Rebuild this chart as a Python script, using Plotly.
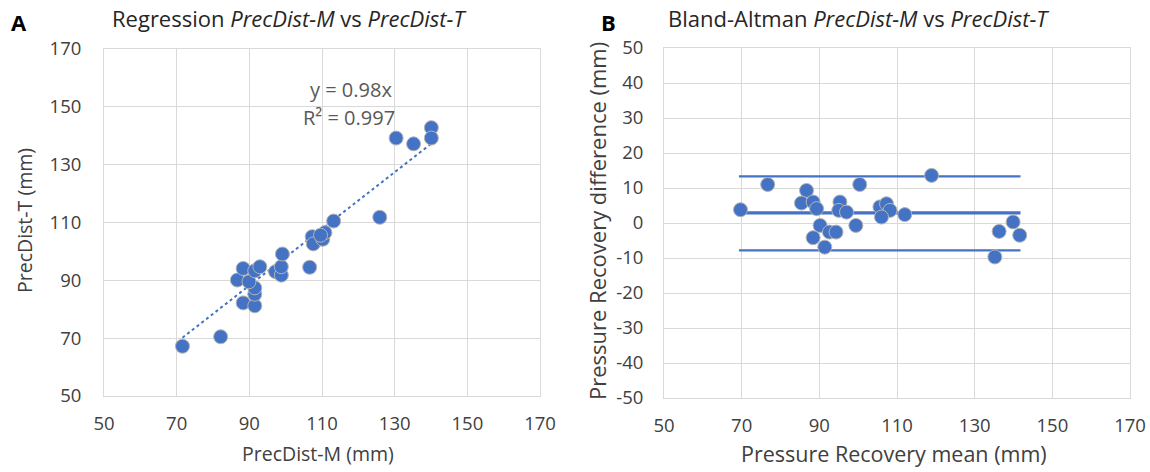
import plotly.graph_objects as go

# ---- Data ----
# Panel A: regression PrecDist-M (x) vs PrecDist-T (y)
reg_m = [71.6, 82.1, 88.3, 91.5, 91.5, 91.5, 86.7, 89.9, 88.3, 91.5, 92.9, 97.2, 98.8,
         98.8, 99.1, 106.6, 107.3, 107.6, 110.2, 110.8, 109.6, 113.2, 125.9, 130.4,
         135.2, 140.1, 140.1]
reg_t = [67.2, 70.5, 82.2, 81.2, 85.2, 87.4, 90.1, 89.5, 94.1, 93.3, 94.7, 93.0, 91.8,
         94.7, 99.1, 94.5, 105.1, 102.6, 104.2, 106.5, 105.6, 110.5, 111.8, 139.2,
         137.2, 142.8, 139.2]
slope = 0.98
eq_text = "y = 0.98x"
r2_text = "R² = 0.997"

# Panel B: Bland-Altman mean vs difference
ba_mean = [69.7, 76.7, 86.7, 85.4, 88.4, 89.3, 90.2, 88.4, 91.4, 92.6, 94.3, 95.3, 95.0,
           97.0, 99.4, 100.4, 105.6, 107.3, 108.2, 106.0, 112.0, 118.9, 135.2, 136.3,
           139.9, 141.6]
ba_diff = [3.8, 11.0, 9.3, 5.7, 6.0, 4.1, -0.7, -4.2, -6.9, -2.6, -2.6, 6.0, 3.6,
           3.1, -0.7, 11.0, 4.6, 5.5, 3.6, 1.7, 2.4, 13.6, -9.7, -2.4, 0.3, -3.5]
ba_bias = 2.9
ba_upper = 13.3
ba_lower = -7.8
ba_line_x = [69.3, 141.8]

ticks_a = [50, 70, 90, 110, 130, 150, 170]
ticks_b_y = [-50, -40, -30, -20, -10, 0, 10, 20, 30, 40, 50]
ticks_b_y_text = [str(v) for v in ticks_b_y]

# ---- Styles ----
BLUE = "#4472C4"
GRID = "#D9D9D9"
TXT = "#404040"
FONT = "Open Sans"
W, H = 1150, 472

fig = go.Figure()

marker = dict(color=BLUE, size=14, line=dict(color="#B4B4B4", width=1))

# Trendline in panel A
x0, x1 = min(reg_m), max(reg_m)
fig.add_trace(go.Scatter(x=[x0, x1], y=[slope * x0, slope * x1], mode="lines",
                         line=dict(color=BLUE, width=2, dash="dot"),
                         xaxis="x", yaxis="y", showlegend=False, hoverinfo="skip"))
fig.add_trace(go.Scatter(x=reg_m, y=reg_t, mode="markers", marker=marker,
                         xaxis="x", yaxis="y", showlegend=False))

# Bland-Altman lines
for val, w in [(ba_upper, 2.2), (ba_bias, 3.2), (ba_lower, 2.2)]:
    fig.add_trace(go.Scatter(x=ba_line_x, y=[val, val], mode="lines",
                             line=dict(color=BLUE, width=w),
                             xaxis="x2", yaxis="y2", showlegend=False, hoverinfo="skip"))
fig.add_trace(go.Scatter(x=ba_mean, y=ba_diff, mode="markers", marker=marker,
                         xaxis="x2", yaxis="y2", showlegend=False))

def px_x(p):
    return p / W

def px_y(p):
    return 1 - p / H

axis_common = dict(showgrid=True, gridcolor=GRID, gridwidth=1, zeroline=False,
                   showline=True, linecolor=GRID, linewidth=1, mirror=True,
                   automargin=False, ticks="",
                   tickfont=dict(family=FONT, size=18.5, color=TXT))

fig.update_layout(
    width=W, height=H, margin=dict(l=0, r=0, t=0, b=0, autoexpand=False),
    paper_bgcolor="white", plot_bgcolor="white",
    font=dict(family=FONT, color=TXT),
    xaxis=dict(domain=[px_x(104), px_x(540)], range=[50, 170], tickvals=ticks_a,
               anchor="y", ticklabelstandoff=11, **axis_common),
    yaxis=dict(domain=[px_y(396), px_y(49)], range=[50, 170], tickvals=ticks_a,
               anchor="x", ticklabelstandoff=18, **axis_common),
    xaxis2=dict(domain=[px_x(664), px_x(1130)], range=[50, 170], tickvals=ticks_a,
                anchor="y2", ticklabelstandoff=11, **axis_common),
    yaxis2=dict(domain=[px_y(398), px_y(48)], range=[-50, 50], tickvals=ticks_b_y,
                ticktext=ticks_b_y_text,
                anchor="x2", ticklabelstandoff=16, **axis_common),
)

def ann(text, x, y, size, angle=0, xanchor="center", bold=False, color=TXT):
    fig.add_annotation(text=f"<b>{text}</b>" if bold else text,
                       x=px_x(x), y=px_y(y), xref="paper", yref="paper",
                       showarrow=False, textangle=angle, xanchor=xanchor, yanchor="middle",
                       font=dict(family=FONT, size=size, color=color))

# Panel labels and titles
ann("A", 19, 22, 22, bold=True, color="#000000")
ann("B", 608, 22, 22, bold=True, color="#000000")
ann("Regression <i>PrecDist-M</i> vs <i>PrecDist-T</i>", 289, 18, 22, color="#262626")
ann("Bland-Altman <i>PrecDist-M</i> vs <i>PrecDist-T</i>", 858, 18, 22, color="#262626")

# Axis titles
ann("PrecDist-M (mm)", 318, 453, 19.5)
ann("PrecDist-T (mm)", 24, 221, 19.5, angle=-90)
ann("Pressure Recovery mean (mm)", 894, 453, 21.5)
ann("Pressure Recovery difference (mm)", 597, 221, 22, angle=-90)

# Trendline equation
fig.add_annotation(text=eq_text, x=px_x(394), y=px_y(89), xref="paper", yref="paper",
                   showarrow=False, xanchor="right", yanchor="middle",
                   font=dict(family=FONT, size=20, color="#595959"))
fig.add_annotation(text=r2_text, x=px_x(397), y=px_y(117), xref="paper", yref="paper",
                   showarrow=False, xanchor="right", yanchor="middle",
                   font=dict(family=FONT, size=20, color="#595959"))

fig.write_html("out.html")
